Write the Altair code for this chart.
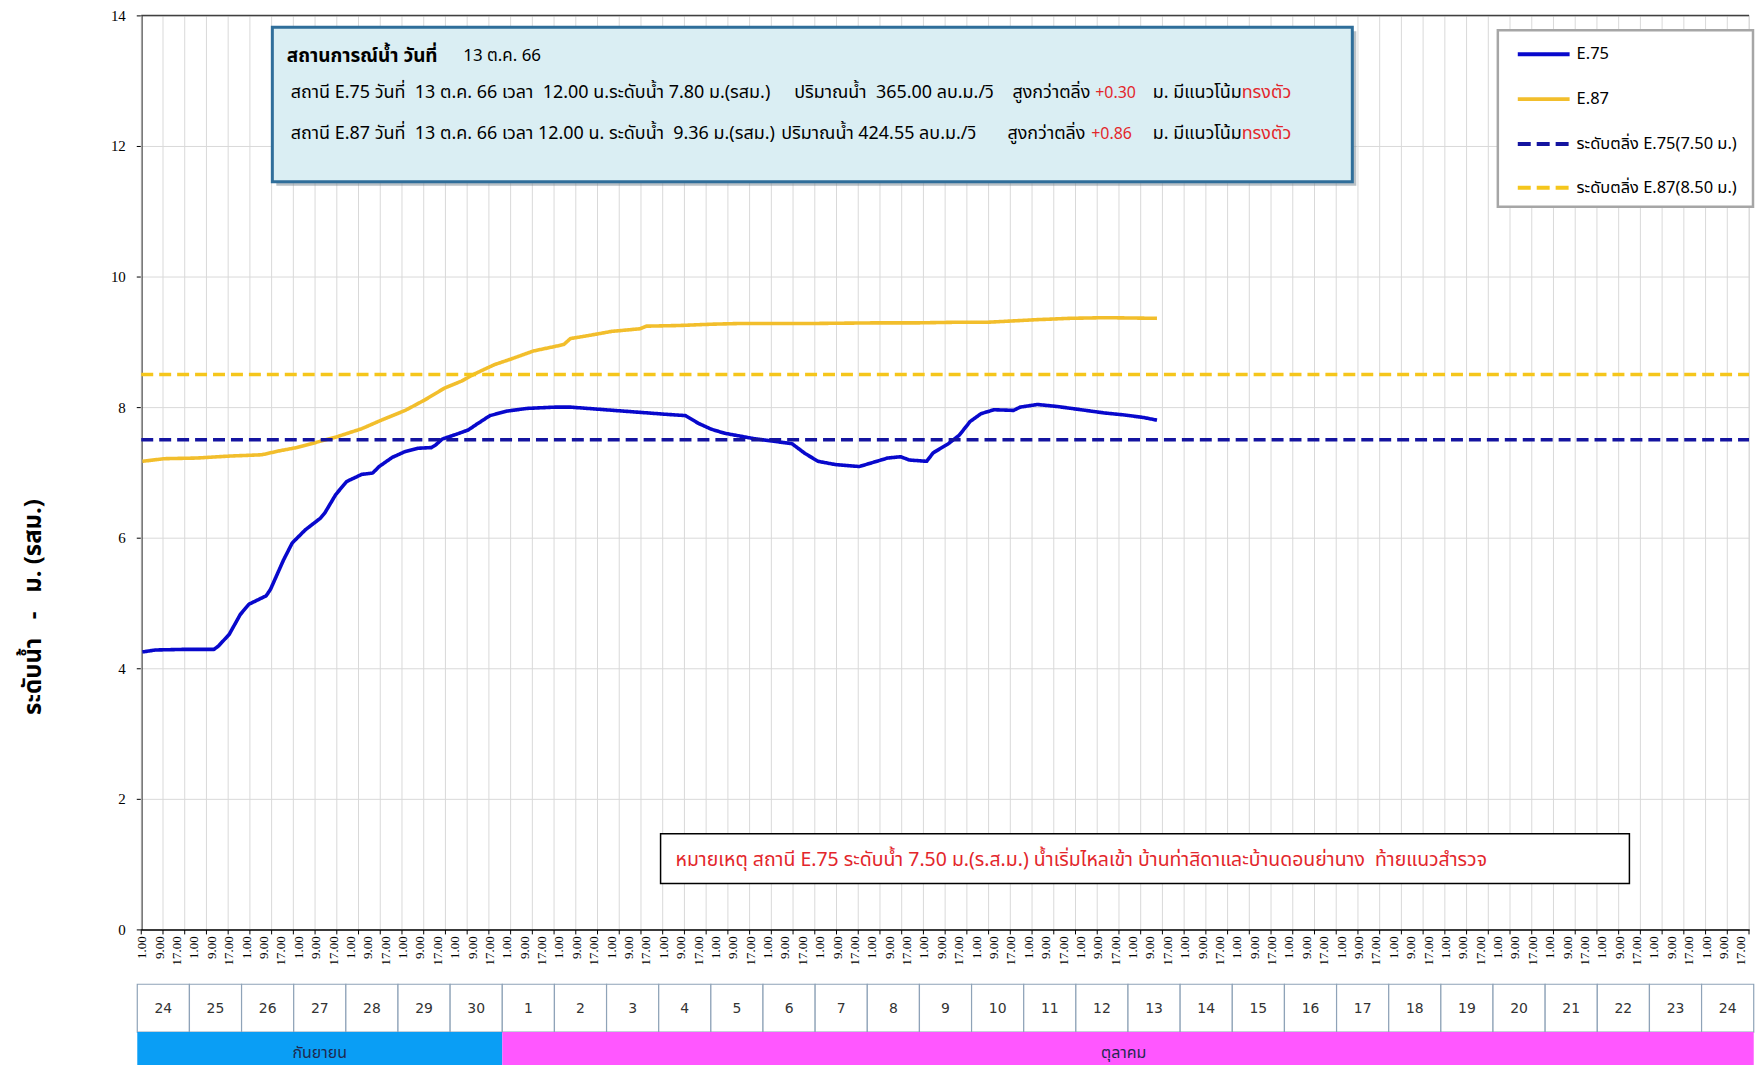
import altair as alt
import pandas as pd

# ---------------- data ----------------
# x = hourly category index counted from 24 Sep 01.00 (one category per hour)
e75_idx = [0, 6, 20, 33, 35, 40, 45, 49, 57, 59, 65, 69, 75, 82, 84, 89, 94, 101, 106, 109,
           115, 121, 127, 133, 135, 138, 145, 150, 154, 160, 168, 177, 190, 197, 213, 229, 241, 250, 256, 262,
           268, 281, 290, 299, 305, 311, 319, 330, 336, 343, 349, 353, 361, 364, 367, 371, 376, 381, 386, 392,
           401, 404, 412, 421, 432, 443, 452, 461, 467]
e75_val = [4.25, 4.28, 4.29, 4.29, 4.34, 4.52, 4.82, 4.98, 5.11, 5.21, 5.66, 5.92, 6.12, 6.30, 6.38, 6.66, 6.86, 6.97, 6.99, 7.09,
           7.23, 7.32, 7.37, 7.38, 7.42, 7.51, 7.59, 7.65, 7.74, 7.87, 7.94, 7.98, 8.00, 8.00, 7.96, 7.92, 7.89, 7.87, 7.75, 7.66,
           7.60, 7.52, 7.48, 7.44, 7.29, 7.17, 7.12, 7.09, 7.15, 7.22, 7.24, 7.19, 7.17, 7.30, 7.36, 7.44, 7.57, 7.78, 7.90, 7.96,
           7.95, 8.00, 8.04, 8.01, 7.96, 7.91, 7.88, 7.84, 7.80]
e87_idx = [0, 10, 25, 40, 55, 63, 71, 80, 89, 101, 110, 121, 130, 139, 147, 153, 162, 170, 180, 190,
           194, 197, 206, 216, 229, 232, 247, 262, 274, 305, 336, 356, 375, 389, 412, 427, 443, 467]
e87_val = [7.17, 7.21, 7.22, 7.25, 7.27, 7.33, 7.38, 7.46, 7.54, 7.67, 7.80, 7.95, 8.11, 8.29, 8.40, 8.51, 8.65, 8.74, 8.86, 8.93,
           8.96, 9.05, 9.10, 9.16, 9.20, 9.24, 9.25, 9.27, 9.28, 9.28, 9.29, 9.29, 9.30, 9.30, 9.34, 9.36, 9.37, 9.36]
bank_e75 = 7.50
bank_e87 = 8.50

series_names = ["E.75", "E.87", "ระดับตลิ่ง E.75(7.50 ม.)", "ระดับตลิ่ง E.87(8.50 ม.)"]
series_colors = ["#0808CC", "#F2BE2C", "#1414A0", "#F5C61C"]
series_dash = [[1, 0], [1, 0], [12, 6], [12, 6]]
series_width = [3.6, 3.6, 4, 4]

tick_hours = ["1.00", "9.00", "17.00"]
day_labels = [24, 25, 26, 27, 28, 29, 30] + list(range(1, 25))
month_labels = ["กันยายน", "ตุลาคม"]
month_ndays = [7, 24]
month_colors = ["#0A9EF5", "#FF57FF"]

y_ticks = [0, 2, 4, 6, 8, 10, 12, 14]
NB = "\u00a0"
y_title = "ระดับน้ำ" + NB * 3 + "-" + NB * 3 + "ม. (รสม.)"

info_head = "สถานการณ์น้ำ วันที่"
info_date = "13 ต.ค. 66"
line2 = ["สถานี E.75 วันที่" + NB * 2 + "13 ต.ค. 66 เวลา" + NB * 2 + "12.00 น.ระดับน้ำ 7.80 ม.(รสม.)",
         "ปริมาณน้ำ" + NB * 2 + "365.00 ลบ.ม./วิ", "สูงกว่าตลิ่ง", "+0.30", "ม. มีแนวโน้ม", "ทรงตัว"]
line3 = ["สถานี E.87 วันที่" + NB * 2 + "13 ต.ค. 66 เวลา 12.00 น. ระดับน้ำ" + NB * 2 + "9.36 ม.(รสม.)",
         "ปริมาณน้ำ 424.55 ลบ.ม./วิ", "สูงกว่าตลิ่ง", "+0.86", "ม. มีแนวโน้ม", "ทรงตัว"]
note_text = ("หมายเหตุ สถานี E.75 ระดับน้ำ 7.50 ม.(ร.ส.ม.) น้ำเริ่มไหลเข้า บ้านท่าสิดาและบ้านดอนย่านาง"
             + NB * 2 + "ท้ายแนวสำรวจ")

# ---------------- layout ----------------
N_HOURS = 740
W = 1613
H = 917
THAI = "Noto Sans Thai, Noto Sans, DejaVu Sans, sans-serif"
SANS = "DejaVu Sans, sans-serif"
SERIF = "Liberation Serif, serif"
RED = "#E3262B"

xs = alt.Scale(domain=[0, N_HOURS], nice=False, zero=False)
ys = alt.Scale(domain=[0, 14], nice=False, zero=False)
one = pd.DataFrame({"k": [0]})

rows = []
for i, v in zip(e75_idx, e75_val):
    rows.append({"s": series_names[0], "x": i + 0.5, "y": v})
for i, v in zip(e87_idx, e87_val):
    rows.append({"s": series_names[1], "x": i + 0.5, "y": v})
for name, lvl in [(series_names[2], bank_e75), (series_names[3], bank_e87)]:
    rows.append({"s": name, "x": 0, "y": lvl})
    rows.append({"s": name, "x": N_HOURS, "y": lvl})
lines_df = pd.DataFrame(rows)

grid_df = pd.DataFrame({"x": list(range(0, N_HOURS + 1, 10))})
n_lab = N_HOURS // 8 + 1
xlab_df = pd.DataFrame({"x": [i * 8 + 0.5 for i in range(n_lab)],
                        "t": [tick_hours[i % 3] for i in range(n_lab)]})

# vertical grid lines & tick marks (every 10 categories)
vgrid = alt.Chart(grid_df).mark_rule(color="#D9D9D9", strokeWidth=1).encode(
    x=alt.X("x:Q", scale=xs), y=alt.value(0), y2=alt.value(H))
vticks = alt.Chart(grid_df).mark_rule(color="black", strokeWidth=1).encode(
    x=alt.X("x:Q", scale=xs), y=alt.value(H), y2=alt.value(H + 5))
xlabels = alt.Chart(xlab_df).mark_text(angle=270, align="right", baseline="middle", font=SERIF,
                                       fontSize=13, color="black").encode(
    x=alt.X("x:Q", scale=xs), y=alt.value(H + 7), text="t:N")

lines = alt.Chart(lines_df).mark_line(strokeJoin="round").encode(
    x=alt.X("x:Q", scale=xs, axis=alt.Axis(labels=False, ticks=False, grid=False,
                                           domainColor="black", domainWidth=1.5, title=None)),
    y=alt.Y("y:Q", scale=ys, axis=alt.Axis(
        values=y_ticks, grid=True, gridColor="#D9D9D9", gridWidth=1,
        tickSize=5, tickColor="black", domainColor="black", domainWidth=1.5,
        labelFont=SERIF, labelFontSize=15, labelColor="black", labelPadding=11,
        title=y_title, titleFont=THAI, titleFontSize=24, titleFontWeight="bold",
        titleColor="black", titleAngle=270, titleX=-108, titleY=593,
        titleAlign="center", titleBaseline="middle")),
    color=alt.Color("s:N", scale=alt.Scale(domain=series_names, range=series_colors), legend=None),
    strokeDash=alt.StrokeDash("s:N", scale=alt.Scale(domain=series_names, range=series_dash), legend=None),
    strokeWidth=alt.StrokeWidth("s:N", scale=alt.Scale(domain=series_names, range=series_width), legend=None),
)

top_border = alt.Chart(one).mark_rule(color="#404040", strokeWidth=1.5).encode(
    x=alt.value(0), x2=alt.value(W), y=alt.value(0))


def box(x1, y1, x2, y2, fill, stroke, sw, opacity=1.0):
    return alt.Chart(one).mark_rect(fill=fill, stroke=stroke, strokeWidth=sw, opacity=opacity).encode(
        x=alt.value(x1), x2=alt.value(x2), y=alt.value(y1), y2=alt.value(y2))


def txt(s, x, y, color="black", size=15, weight="normal", font=THAI, align="left"):
    return alt.Chart(one).mark_text(text=s, color=color, fontSize=size, fontWeight=weight, font=font,
                                    align=align, baseline="middle").encode(x=alt.value(x), y=alt.value(y))


layers = [vgrid, vticks, xlabels, lines, top_border]

# info box
layers += [box(135.5, 16, 1219, 171, "#7F8E98", None, 0, 0.55),
           box(131.5, 12, 1215, 167, "#DAEEF3", "#2F6E9A", 3)]
layers += [txt(info_head, 146, 41, size=19, weight="bold"), txt(info_date, 323, 41, size=17)]
x_pos2 = [150, 655, 874, 957, 1104, 1104]
x_pos3 = [150, 642, 869, 953, 1104, 1104]
cols = ["black", "black", "black", RED, "black", RED]
sizes = [18, 18, 18, 16, 18, 18]
aligns = ["left", "left", "left", "left", "right", "left"]
for line, xpos, yy in [(line2, x_pos2, 78), (line3, x_pos3, 119)]:
    for seg, xp, c, sz, al in zip(line, xpos, cols, sizes, aligns):
        layers.append(txt(seg, xp, yy, color=c, size=sz, align=al))

# legend
layers += [box(1361, 15, 1617, 192, "white", "#A6A6A6", 2.5)]
leg_y = [39, 84, 129, 173]
for name, col, dash, yy in zip(series_names, series_colors, series_dash, leg_y):
    layers.append(alt.Chart(one).mark_rule(color=col, strokeWidth=4, strokeDash=[13, 6] if dash[1] > 0 else [1, 0]).encode(
        x=alt.value(1381), x2=alt.value(1433), y=alt.value(yy)))
    layers.append(txt(name, 1440, yy, size=16.5, font=THAI))

# note box
layers += [box(521, 821, 1493, 871, "white", "black", 1.5),
           txt(note_text, 536, 847, color=RED, size=19.5)]

# day / month table under the axis
day_df = pd.DataFrame({"d": [str(d) for d in day_labels],
                       "x": [i * 24 for i in range(len(day_labels))],
                       "x2": [(i + 1) * 24 for i in range(len(day_labels))]})
day_df["xm"] = (day_df["x"] + day_df["x2"]) / 2
starts = [0]
for n in month_ndays[:-1]:
    starts.append(starts[-1] + n * 24)
mon_df = pd.DataFrame({"m": month_labels, "x": [s for s in starts],
                       "x2": [s + n * 24 for s, n in zip(starts, month_ndays)], "c": month_colors})
mon_df["xm"] = (mon_df["x"] + mon_df["x2"].clip(upper=N_HOURS)) / 2

layers.append(alt.Chart(day_df).mark_rect(fill="white", stroke="#8FA3B8", strokeWidth=1.2, xOffset=-4, x2Offset=-4).encode(
    x=alt.X("x:Q", scale=xs), x2="x2:Q", y=alt.value(972), y2=alt.value(1020)))
layers.append(alt.Chart(day_df).mark_text(font=SANS, fontSize=14, color="#333333", xOffset=-4).encode(
    x=alt.X("xm:Q", scale=xs), y=alt.value(997), text="d:N"))
layers.append(alt.Chart(mon_df).mark_rect(xOffset=-4, x2Offset=-4).encode(
    x=alt.X("x:Q", scale=xs), x2="x2:Q", y=alt.value(1020), y2=alt.value(1070),
    fill=alt.Fill("c:N", scale=None)))
layers.append(alt.Chart(mon_df).mark_text(font=THAI, fontSize=16, color="#1F2A50", xOffset=-4).encode(
    x=alt.X("xm:Q", scale=xs), y=alt.value(1041), text="m:N"))

chart = alt.layer(*layers).properties(
    width=W, height=H,
    autosize=alt.AutoSizeParams(type="none"),
    padding={"left": 133.7, "top": 5.7, "right": 6, "bottom": 134.3},
).configure_view(stroke=None).configure(background="white")

chart.save("out.html", embed_options={"renderer": "svg", "actions": False})
